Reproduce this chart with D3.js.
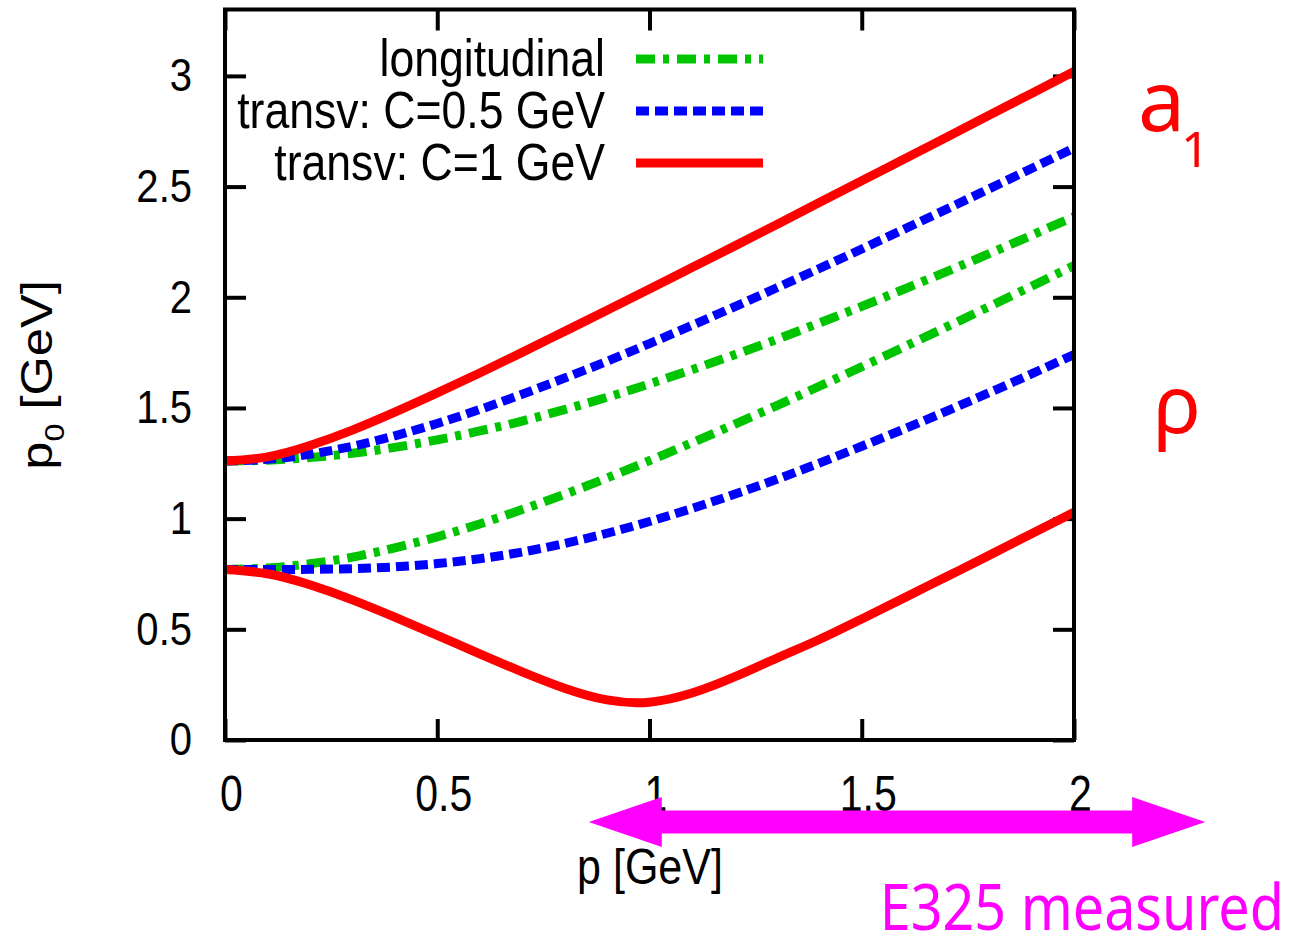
<!DOCTYPE html>
<html><head><meta charset="utf-8">
<script src="https://cdn.jsdelivr.net/npm/d3@7"></script>
<style>body{margin:0;background:#fff} svg{display:block}</style>
</head><body>
<svg id="chart" width="1306" height="935"></svg>
<script>
// ---- data ----
const momentum = [0,0.1,0.2,0.3,0.4,0.5,0.6,0.7,0.8,0.9,1.0,1.1,1.2,1.3,1.4,1.5,1.6,1.7,1.8,1.9,2.0];
const longRho   = [0.770,0.777,0.796,0.826,0.868,0.918,0.976,1.041,1.110,1.184,1.262,1.343,1.426,1.511,1.598,1.686,1.776,1.866,1.958,2.050,2.143];
const longA1    = [1.260,1.264,1.276,1.295,1.322,1.356,1.396,1.441,1.493,1.548,1.609,1.673,1.740,1.810,1.884,1.959,2.037,2.116,2.197,2.280,2.364];
const halfA1    = [1.260,1.268,1.291,1.327,1.374,1.430,1.493,1.562,1.635,1.711,1.791,1.873,1.957,2.043,2.130,2.218,2.308,2.398,2.490,2.582,2.674];
const halfRho   = [0.770,0.770,0.771,0.774,0.782,0.797,0.819,0.849,0.888,0.934,0.987,1.046,1.110,1.178,1.251,1.327,1.405,1.486,1.569,1.654,1.741];
const oneA1     = [1.260,1.279,1.330,1.400,1.481,1.568,1.658,1.751,1.846,1.941,2.037,2.134,2.231,2.329,2.428,2.526,2.625,2.723,2.822,2.921,3.020];
const oneRho    = [0.770,0.751,0.701,0.633,0.555,0.473,0.389,0.308,0.234,0.181,0.171,0.212,0.285,0.370,0.454,0.547,0.642,0.738,0.834,0.932,1.029];
const xTicks = [0,0.5,1,1.5,2];
const yTicks = [0,0.5,1,1.5,2,2.5,3];
const legendLabels = ["longitudinal","transv: C=0.5 GeV","transv: C=1 GeV"];
const measuredRange = [0.857, 2.309]; // E325 arrow, in p [GeV]

// ---- layout ----
const svg = d3.select("#chart");
const L = 225, R = 1074, T = 9.5, B = 740;
const x = d3.scaleLinear().domain([0,2]).range([L,R]);
const y = d3.scaleLinear().domain([0,3.3]).range([B,T]);
const SANS = "'Liberation Sans', Arial, Helvetica, sans-serif";
const NOTO = "'Noto Sans', 'Open Sans', sans-serif";

function squeeze(sel, f){
  sel.each(function(){
    const w = this.getComputedTextLength();
    d3.select(this).attr("textLength", w*f).attr("lengthAdjust","spacingAndGlyphs");
  });
}

const green = "#00c400", blue = "#0000ff", red = "#ff0000";
const styles = [
  {color: green, dash: "19,8,6,8"},
  {color: blue, dash: "13,6"},
  {color: red, dash: null}
];
const groups = [
  [longA1, longRho],
  [halfA1, halfRho],
  [oneA1, oneRho]
];

svg.append("defs").append("clipPath").attr("id","plotclip")
  .append("rect").attr("x",L).attr("y",T).attr("width",R-L).attr("height",B-T);

function styleAxis(g){
  g.select(".domain").remove();
  g.selectAll(".tick line").attr("stroke","#000").attr("stroke-width",4);
}
const xb = svg.append("g").attr("transform",`translate(0,${B})`)
  .call(d3.axisBottom(x).tickValues(xTicks).tickSize(-21).tickPadding(35.5).tickFormat(d3.format("")));
styleAxis(xb);
xb.selectAll("text").attr("font-family",SANS).attr("font-size",50).attr("fill","#000").attr("dx",6)
  .call(squeeze,0.82);
svg.append("g").attr("transform",`translate(0,${T})`)
  .call(d3.axisTop(x).tickValues(xTicks).tickSize(-21).tickFormat("")).call(styleAxis);

const yl = svg.append("g").attr("transform",`translate(${L},0)`)
  .call(d3.axisLeft(y).tickValues(yTicks).tickSize(-21).tickPadding(33).tickFormat(d3.format("")));
styleAxis(yl);
yl.selectAll("text").attr("font-family",SANS).attr("font-size",46).attr("fill","#000")
  .call(squeeze,0.87);
svg.append("g").attr("transform",`translate(${R},0)`)
  .call(d3.axisRight(y).tickValues(yTicks).tickSize(-21).tickFormat("")).call(styleAxis);

const line = d3.line().x(d=>x(d[0])).y(d=>y(d[1])).curve(d3.curveNatural);
const curves = svg.append("g").attr("clip-path","url(#plotclip)");
groups.forEach((pair,i)=>{
  pair.forEach(vals=>{
    curves.append("path")
      .attr("d", line(momentum.map((p,k)=>[p, vals[k]])))
      .attr("fill","none").attr("stroke",styles[i].color).attr("stroke-width",9)
      .attr("stroke-dasharray",styles[i].dash);
  });
});

svg.append("rect").attr("x",L).attr("y",T).attr("width",R-L).attr("height",B-T)
  .attr("fill","none").attr("stroke","#000").attr("stroke-width",4);

const legY = [59, 111, 163];
legendLabels.forEach((lab,i)=>{
  svg.append("text").attr("x",605).attr("y",legY[i]+17)
    .attr("text-anchor","end").attr("font-family",SANS).attr("font-size",52).attr("fill","#000")
    .text(lab).call(squeeze,0.857);
  svg.append("line").attr("x1",636).attr("x2",763).attr("y1",legY[i]).attr("y2",legY[i])
    .attr("stroke",styles[i].color).attr("stroke-width",9)
    .attr("stroke-dasharray",styles[i].dash);
});

svg.append("text").attr("x",650).attr("y",884).attr("text-anchor","middle")
  .attr("font-family",SANS).attr("font-size",50).attr("fill","#000")
  .text("p [GeV]").call(squeeze,0.86);

const yt = svg.append("text").attr("transform","translate(52,375) rotate(-90)")
  .attr("text-anchor","middle").attr("font-family",SANS).attr("font-size",44).attr("fill","#000");
yt.append("tspan").text("p");
yt.append("tspan").attr("font-size",28).attr("dy",12).text("0");
yt.append("tspan").attr("dy",-12).text(" [GeV]");
yt.call(squeeze,1.15);

const ay = 822, shaft = 11.5, headH = 25, headL = 73;
const xa = x(measuredRange[0]), xe = x(measuredRange[1]);
const arrowPts = [
  [xa, ay], [xa+headL, ay-headH], [xa+headL, ay-shaft], [xe-headL, ay-shaft], [xe-headL, ay-headH],
  [xe, ay], [xe-headL, ay+headH], [xe-headL, ay+shaft], [xa+headL, ay+shaft], [xa+headL, ay+headH]
];
svg.append("polygon").attr("points", arrowPts.map(p=>p.join(",")).join(" ")).attr("fill","#ff00ff");

svg.append("text").attr("x",1284).attr("y",930).attr("text-anchor","end")
  .attr("font-family",NOTO).attr("font-size",64).attr("fill","#ff00ff")
  .text("E325 measured").call(squeeze,0.87);

svg.append("text").attr("x",1138).attr("y",131).attr("font-family",NOTO).attr("font-size",84).attr("fill",red).text("a");
svg.append("text").attr("x",1181).attr("y",167).attr("font-family",NOTO).attr("font-size",50).attr("fill",red).text("1");
svg.append("text").attr("x",1153).attr("y",433).attr("font-family",NOTO).attr("font-size",80).attr("fill",red).text("ρ");
</script>
</body></html>
